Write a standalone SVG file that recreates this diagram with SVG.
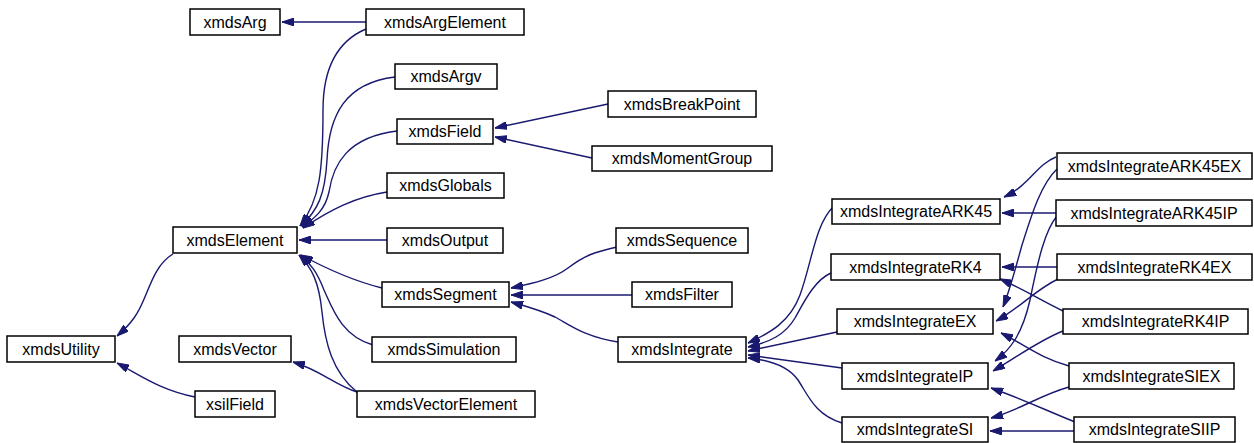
<svg xmlns="http://www.w3.org/2000/svg" width="1254" height="443" viewBox="0 0 1254 443">
<defs>
<style>
.n rect{fill:#fff;stroke:#000;stroke-width:1.5}
.n text{font-family:"Liberation Sans",Arial,sans-serif;font-size:16px;fill:#000;text-anchor:middle}
.e path{fill:none;stroke:#191970;stroke-width:1.4;marker-end:url(#a)}
</style>
<marker id="a" markerUnits="userSpaceOnUse" viewBox="0 0 12 8" refX="12" refY="4" markerWidth="12" markerHeight="8" orient="auto">
<path d="M0,0 L12,4 L0,8 z" fill="#191970" stroke="#191970"/>
</marker>
</defs>
<rect width="1254" height="443" fill="#fff"/>
<g id="edges" class="e">
<path d="M173,254 C150,268 148,300 134,318 C129,325 124,330 117,336"/>
<path d="M195,397 C160,390 140,375 117,363"/>
<path d="M357,392 C335,385 320,370 293,362"/>
<path d="M366,22 L282,22"/>
<path d="M366,29 C340,40 323,65 323,110 C323,170 320,200 300,226"/>
<path d="M395,77 C345,83 329,115 327,160 C325,195 318,210 301,226"/>
<path d="M397,131 C347,137 333,165 329,192 C325,210 315,218 302,227"/>
<path d="M387,192 C355,197 330,210 303,228"/>
<path d="M387,240 L299,240"/>
<path d="M382,288 C350,280 325,268 301,255"/>
<path d="M373,345 C342,336 333,310 324,290 C317,272 311,264 300,255"/>
<path d="M357,392 C332,372 325,342 322,312 C319,282 312,268 299,255"/>
<path d="M608,104 L495,128"/>
<path d="M592,158 L495,137"/>
<path d="M617,247 C595,252 585,255 568,268 C555,278 535,283 511,288"/>
<path d="M632,295 L511,295"/>
<path d="M618,342 C585,337 570,325 555,317 C540,310 525,306 511,302"/>
<path d="M833,207 C815,225 812,262 800,295 C790,322 770,333 748,343"/>
<path d="M831,273 C815,280 805,300 795,318 C785,335 770,342 748,347"/>
<path d="M837,332 L748,351"/>
<path d="M842,368 L748,355"/>
<path d="M842,423 C815,415 808,395 798,380 C788,366 770,360 748,358"/>
<path d="M1056,157 C1036,165 1030,185 1004,197"/>
<path d="M1056,213 L1002,213"/>
<path d="M1057,169 C1040,185 1030,220 1022,245 C1015,270 1010,290 1003,307"/>
<path d="M1057,216 C1045,230 1038,260 1030,300 C1022,335 1010,350 995,361"/>
<path d="M1057,267 L1002,267"/>
<path d="M1058,279 C1035,290 1020,308 996,321"/>
<path d="M1063,311 C1040,300 1025,290 1000,279"/>
<path d="M1063,331 C1040,340 1020,355 993,371"/>
<path d="M1069,366 C1040,358 1025,345 1001,333"/>
<path d="M1069,387 C1040,395 1020,410 991,418"/>
<path d="M1075,422 C1045,410 1025,400 991,388"/>
<path d="M1074,431 L990,431"/>
</g>
<g id="xmdsUtility" class="n"><rect x="7" y="336" width="108" height="26"/><text x="61" y="354.5">xmdsUtility</text></g>
<g id="xmdsElement" class="n"><rect x="173" y="227" width="124" height="26"/><text x="235" y="245.5">xmdsElement</text></g>
<g id="xmdsVector" class="n"><rect x="179" y="336" width="112" height="26"/><text x="235" y="354.5">xmdsVector</text></g>
<g id="xsilField" class="n"><rect x="195" y="391" width="80" height="26"/><text x="235" y="409.5">xsilField</text></g>
<g id="xmdsArg" class="n"><rect x="190" y="9" width="90" height="26"/><text x="235" y="27.5">xmdsArg</text></g>
<g id="xmdsArgElement" class="n"><rect x="366" y="9" width="158" height="26"/><text x="445" y="27.5">xmdsArgElement</text></g>
<g id="xmdsArgv" class="n"><rect x="395" y="64" width="102" height="25"/><text x="446" y="82">xmdsArgv</text></g>
<g id="xmdsField" class="n"><rect x="397" y="119" width="96" height="25"/><text x="445" y="137">xmdsField</text></g>
<g id="xmdsGlobals" class="n"><rect x="387" y="173" width="117" height="25"/><text x="445.5" y="191">xmdsGlobals</text></g>
<g id="xmdsOutput" class="n"><rect x="387" y="228" width="116" height="25"/><text x="445" y="246">xmdsOutput</text></g>
<g id="xmdsSegment" class="n"><rect x="382" y="282" width="127" height="25"/><text x="445.5" y="300">xmdsSegment</text></g>
<g id="xmdsSimulation" class="n"><rect x="372" y="337" width="144" height="25"/><text x="444" y="355">xmdsSimulation</text></g>
<g id="xmdsVectorElement" class="n"><rect x="357" y="391" width="178" height="26"/><text x="446" y="409.5">xmdsVectorElement</text></g>
<g id="xmdsBreakPoint" class="n"><rect x="608" y="91" width="148" height="26"/><text x="682" y="109.5">xmdsBreakPoint</text></g>
<g id="xmdsMomentGroup" class="n"><rect x="592" y="146" width="180" height="25"/><text x="682" y="164">xmdsMomentGroup</text></g>
<g id="xmdsSequence" class="n"><rect x="616" y="228" width="132" height="25"/><text x="682" y="246">xmdsSequence</text></g>
<g id="xmdsFilter" class="n"><rect x="632" y="282" width="100" height="25"/><text x="682" y="300">xmdsFilter</text></g>
<g id="xmdsIntegrate" class="n"><rect x="618" y="337" width="128" height="25"/><text x="682" y="355">xmdsIntegrate</text></g>
<g id="xmdsIntegrateARK45" class="n"><rect x="832" y="199" width="168" height="25"/><text x="916" y="217">xmdsIntegrateARK45</text></g>
<g id="xmdsIntegrateRK4" class="n"><rect x="831" y="254" width="169" height="26"/><text x="915.5" y="272.5">xmdsIntegrateRK4</text></g>
<g id="xmdsIntegrateEX" class="n"><rect x="837" y="309" width="156" height="25"/><text x="915" y="327">xmdsIntegrateEX</text></g>
<g id="xmdsIntegrateIP" class="n"><rect x="842" y="363" width="146" height="26"/><text x="915" y="381.5">xmdsIntegrateIP</text></g>
<g id="xmdsIntegrateSI" class="n"><rect x="842" y="417" width="146" height="25"/><text x="915" y="435">xmdsIntegrateSI</text></g>
<g id="xmdsIntegrateARK45EX" class="n"><rect x="1057" y="153" width="195" height="26"/><text x="1154.5" y="171.5">xmdsIntegrateARK45EX</text></g>
<g id="xmdsIntegrateARK45IP" class="n"><rect x="1056" y="200" width="196" height="26"/><text x="1154" y="218.5">xmdsIntegrateARK45IP</text></g>
<g id="xmdsIntegrateRK4EX" class="n"><rect x="1057" y="254" width="195" height="26"/><text x="1154.5" y="272.5">xmdsIntegrateRK4EX</text></g>
<g id="xmdsIntegrateRK4IP" class="n"><rect x="1063" y="309" width="185" height="25"/><text x="1155.5" y="327">xmdsIntegrateRK4IP</text></g>
<g id="xmdsIntegrateSIEX" class="n"><rect x="1069" y="363" width="165" height="26"/><text x="1151.5" y="381.5">xmdsIntegrateSIEX</text></g>
<g id="xmdsIntegrateSIIP" class="n"><rect x="1074" y="417" width="161" height="25"/><text x="1154.5" y="435">xmdsIntegrateSIIP</text></g>
</svg>
